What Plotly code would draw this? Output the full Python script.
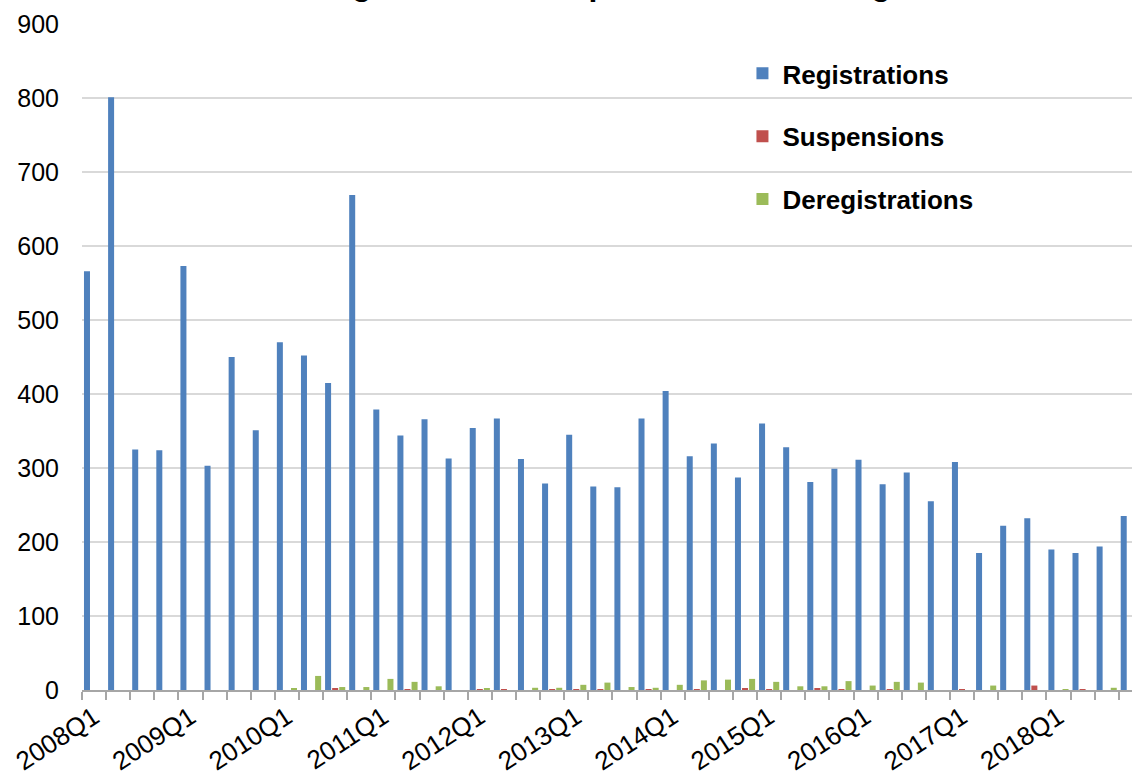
import plotly.graph_objects as go

quarters = [f"{y}Q{q}" for y in range(2008, 2019) for q in range(1, 5)]
tick_labels = [q if q.endswith("Q1") else "" for q in quarters]

registrations = [566, 801, 325, 324, 573, 303, 450, 351,
                 470, 452, 415, 669, 379, 344, 366, 313,
                 354, 367, 312, 279, 345, 275, 274, 367,
                 404, 316, 333, 287, 360, 328, 281, 299,
                 311, 278, 294, 255, 308, 185, 222, 232,
                 190, 185, 194, 235]
suspensions = [0, 0, 0, 0, 0, 0, 0, 0,
               0, 0, 2, 0, 0, 1, 0, 0,
               1, 1, 0, 1, 1, 1, 0, 1,
               0, 1, 0, 2, 1, 0, 2, 1,
               0, 1, 0, 0, 1, 0, 0, 6,
               0, 1, 0, 0]
deregistrations = [0, 0, 0, 0, 0, 0, 0, 0,
                   2, 19, 4, 4, 15, 11, 5, 0,
                   2, 0, 3, 3, 7, 10, 4, 3,
                   7, 13, 14, 15, 11, 5, 5, 12,
                   6, 11, 10, 0, 0, 6, 0, 0,
                   1, 0, 3, 0]

title_text = "Registrations, suspensions and deregistrations"

FONT = "Liberation Sans, Arial, sans-serif"

fig = go.Figure()
series = [("Registrations", registrations, "#4F81BD"),
          ("Suspensions", suspensions, "#C0504D"),
          ("Deregistrations", deregistrations, "#9BBB59")]
for name, vals, col in series:
    fig.add_trace(go.Bar(x=quarters, y=vals, name=name, marker_color=col,
                         marker_line_width=0, legendgroup=name))

fig.update_layout(
    width=1132, height=773,
    margin=dict(l=82, r=0, t=24, b=83, autoexpand=False),
    paper_bgcolor="white", plot_bgcolor="white",
    barmode="group", bargap=0.12, bargroupgap=0.15,
    font=dict(family=FONT, color="black"),
    legend=dict(x=0.629, y=0.961, xanchor="left", yanchor="top",
                font=dict(size=26, weight="bold", color="black"),
                tracegroupgap=26, bgcolor="rgba(0,0,0,0)"),
    xaxis=dict(type="category", categoryorder="array", categoryarray=quarters,
               range=[-0.5, 43.05], automargin=False,
               tickmode="array", tickvals=quarters, ticktext=tick_labels,
               tickson="boundaries", ticks="outside", ticklen=8,
               tickcolor="#a6a6a6", tickwidth=1.5,
               showline=True, linecolor="#a6a6a6", linewidth=1.5,
               showgrid=False, tickangle=-33,
               tickfont=dict(size=26, color="black")),
    yaxis=dict(range=[0, 900], dtick=100, tick0=0, automargin=False,
               showgrid=True, gridcolor="#d9d9d9", gridwidth=1.5,
               zeroline=False, showline=False, ticks="",
               ticklabelstandoff=22,
               tickfont=dict(size=25, color="black")),
    annotations=[dict(text=title_text, xref="paper", yref="paper",
                      x=(309 - 82) / 1050, y=1, xanchor="left", yanchor="bottom",
                      yshift=20, showarrow=False,
                      font=dict(size=32, weight="bold", color="black", family=FONT))],
)

fig.write_html("out.html", config={"displayModeBar": False},
               post_script="document.body.style.margin='0';document.body.style.padding='0';"
                           "document.body.style.overflow='hidden';")
